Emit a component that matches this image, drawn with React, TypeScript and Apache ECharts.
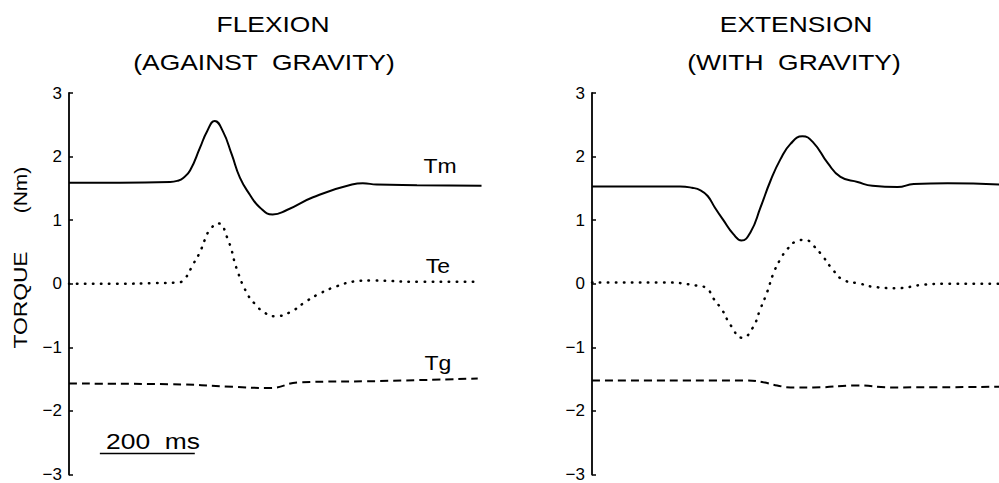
import React, { useEffect, useRef } from "react";
import * as echarts from "echarts";

// ---- data (time in ms, torque in Nm) ----
const yTicks = [-3, -2, -1, 0, 1, 2, 3];
const leftXMax = 870;
const rightXMax = 855;

const flexTm: [number, number][] = [
  [0, 1.59], [107, 1.59], [213, 1.6], [229, 1.62], [240, 1.66], [255, 1.78], [276, 2.14],
  [291, 2.4], [307, 2.56], [324, 2.4], [343, 2.03], [360, 1.67], [381, 1.4], [402, 1.2],
  [429, 1.09], [459, 1.16], [514, 1.36], [596, 1.56], [619, 1.58], [648, 1.56], [733, 1.55], [869, 1.54],
];
const flexTe: [number, number][] = [
  [0, 0.0], [100, 0.0], [180, 0.01], [229, 0.02], [244, 0.08], [261, 0.3], [276, 0.5], [286, 0.69],
  [297, 0.85], [314, 0.95], [335, 0.69], [354, 0.22], [375, -0.15], [392, -0.32], [413, -0.46],
  [434, -0.51], [465, -0.45], [497, -0.29], [524, -0.17], [564, -0.04], [606, 0.04], [634, 0.05],
  [740, 0.03], [865, 0.03],
];
const flexTg: [number, number][] = [
  [0, -1.57], [213, -1.58], [345, -1.62], [423, -1.64], [486, -1.55], [655, -1.53], [861, -1.49],
];

const extTm: [number, number][] = [
  [0, 1.53], [185, 1.53], [210, 1.51], [228, 1.47], [243, 1.38], [258, 1.2], [276, 1.0], [297, 0.78],
  [314, 0.68], [333, 0.81], [354, 1.2], [375, 1.62], [396, 1.96], [417, 2.2], [442, 2.32],
  [465, 2.22], [495, 1.9], [522, 1.68], [558, 1.6], [589, 1.54], [642, 1.52], [676, 1.57],
  [747, 1.58], [857, 1.56],
];
const extTe: [number, number][] = [
  [0, 0.02], [150, 0.02], [221, -0.03], [242, -0.08], [255, -0.23], [274, -0.42], [291, -0.65],
  [316, -0.85], [337, -0.7], [354, -0.39], [368, -0.13], [381, 0.16], [396, 0.39], [411, 0.55],
  [427, 0.66], [448, 0.69], [465, 0.6], [486, 0.42], [507, 0.21], [528, 0.06], [564, 0.0],
  [592, -0.05], [642, -0.07], [691, -0.02], [747, 0.0], [857, 0.0],
];
const extTg: [number, number][] = [
  [0, -1.52], [326, -1.52], [360, -1.55], [389, -1.6], [417, -1.63], [465, -1.63], [558, -1.6],
  [627, -1.63], [857, -1.62],
];

const scaleBar: [number, number][] = [[65, -2.67], [265, -2.67]];

const FONT = "Liberation Sans";

function txt(text: string, x: number, y: number, size: number, sx: number, rotation = 0) {
  return {
    type: "text",
    x,
    y,
    scaleX: sx,
    rotation,
    style: {
      text,
      fontFamily: FONT,
      fontSize: size,
      fill: "#000",
      textAlign: "center",
      textVerticalAlign: "middle",
    },
  };
}

export default function App() {
  const ref = useRef<HTMLDivElement>(null);
  useEffect(() => {
    if (!ref.current) return;
    const chart = echarts.init(ref.current, undefined, { renderer: "svg" });
    const yAxisBase = {
      type: "value",
      min: yTicks[0],
      max: yTicks[yTicks.length - 1],
      interval: 1,
      axisLine: { show: true, lineStyle: { color: "#000", width: 1.8 } },
      axisTick: { show: true, inside: true, length: 4, lineStyle: { color: "#000", width: 1.5 } },
      splitLine: { show: false },
      axisLabel: {
        show: true,
        color: "#000",
        fontSize: 17,
        fontFamily: FONT,
        margin: 7,
        formatter: (v: number) => "{n|" + String(v).replace("-", "\u2212") + "}",
        rich: { n: { fontSize: 17, fontFamily: FONT, color: "#000" } },
      },
    };
    const solid = { color: "#000", width: 2, type: "solid" };
    const dotted = { color: "#000", width: 2.5, type: [0.5, 7.5], cap: "round" };
    const dashed = { color: "#000", width: 2, type: [8, 5] };
    const mk = (name: string, data: [number, number][], idx: number, ls: any, smooth: any = 0.5) => ({
      name,
      type: "line",
      xAxisIndex: idx,
      yAxisIndex: idx,
      data,
      showSymbol: false,
      symbol: "none",
      smooth,
      lineStyle: ls,
      silent: true,
    });
    chart.setOption({
      animation: false,
      backgroundColor: "#fff",
      textStyle: { fontFamily: FONT, fontSize: 17, color: "#000" },
      grid: [
        { left: 69, top: 93, width: 413, height: 385 },
        { left: 592, top: 93, width: 407, height: 383 },
      ],
      xAxis: [
        { type: "value", gridIndex: 0, min: 0, max: leftXMax, show: false },
        { type: "value", gridIndex: 1, min: 0, max: rightXMax, show: false },
      ],
      yAxis: [
        { ...yAxisBase, gridIndex: 0 },
        { ...yAxisBase, gridIndex: 1 },
      ],
      series: [
        mk("Tm flexion", flexTm, 0, solid),
        mk("Te flexion", flexTe, 0, dotted),
        mk("Tg flexion", flexTg, 0, dashed),
        mk("Tm extension", extTm, 1, solid),
        mk("Te extension", extTe, 1, dotted),
        mk("Tg extension", extTg, 1, dashed),
        mk("200 ms", scaleBar, 0, { color: "#000", width: 1.5 }, false),
      ],
      graphic: [
        txt("FLEXION", 273, 24, 22, 1.2),
        txt("(AGAINST  GRAVITY)", 264, 62, 22, 1.2),
        txt("EXTENSION", 796, 24, 22, 1.2),
        txt("(WITH  GRAVITY)", 794, 62, 22, 1.2),
        txt("TORQUE", 20, 300, 19, 1.2, Math.PI / 2),
        txt("(Nm)", 20, 190, 19, 1.1, Math.PI / 2),
        txt("Tm", 440, 166, 20, 1.15),
        txt("Te", 438, 266, 20, 1.15),
        txt("Tg", 438, 363, 20, 1.15),
        txt("200  ms", 153, 441, 22, 1.2),
      ],
    });
    return () => chart.dispose();
  }, []);
  return (
    <div
      ref={ref}
      style={{ position: "absolute", left: 0, top: 0, width: 999, height: 483, background: "#fff" }}
    />
  );
}
